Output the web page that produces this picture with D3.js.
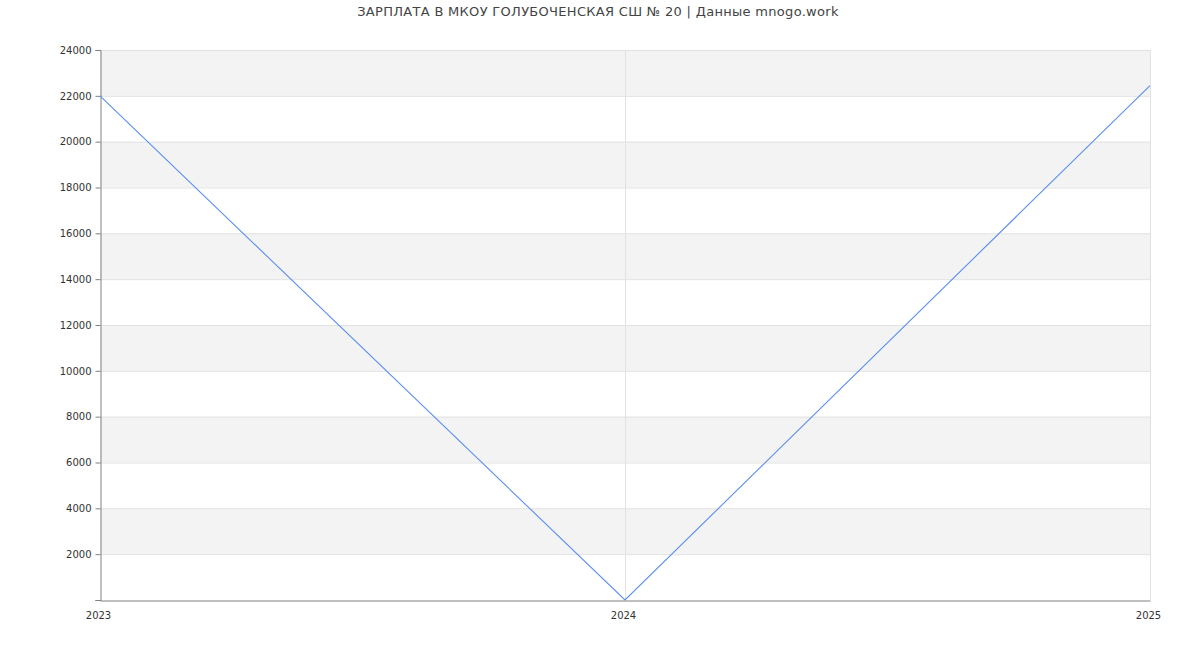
<!DOCTYPE html>
<html lang="ru">
<head>
<meta charset="UTF-8">
<title>Зарплата</title>
<script src="https://d3js.org/d3.v7.min.js"></script>
<style>
    html, body { margin: 0; padding: 0; overflow: hidden; background: #fff; }
    svg { font-family: "DejaVu Sans", sans-serif; }
</style>
</head>
<body>
<svg id="chart" width="1200" height="650"></svg>
<script>
// chart data
const years = [2023, 2024, 2025];
const salaries = [22000, 0, 22450];
const yTicks = [2000, 4000, 6000, 8000, 10000, 12000, 14000, 16000, 18000, 20000, 22000, 24000];
const title = "ЗАРПЛАТА В МКОУ ГОЛУБОЧЕНСКАЯ СШ № 20 | Данные mnogo.work";

const svg = d3.select("#chart"),
    margin = {top: 50, right: 50, bottom: 50, left: 100},
    width = +svg.attr("width") - margin.left - margin.right,
    height = +svg.attr("height") - margin.top - margin.bottom,
    g = svg.append("g").attr("transform", `translate(${margin.left},${margin.top})`);

const x = d3.scaleLinear().domain([2023, 2025]).range([0, width]);
const y = d3.scaleLinear().domain([0, 24000]).range([height, 0]);

// alternating bands
const bands = [0, 4000, 8000, 12000, 16000, 20000].map(v => [v + 2000, v + 4000]);
g.selectAll(".band").data(bands).enter().append("rect")
    .attr("x", 0)
    .attr("width", width)
    .attr("y", d => y(d[1]))
    .attr("height", d => y(d[0]) - y(d[1]))
    .attr("fill", "#f3f3f3");

// horizontal grid
g.selectAll(".hgrid").data(yTicks).enter().append("line")
    .attr("x1", 0).attr("x2", width)
    .attr("y1", d => y(d) + 0.5).attr("y2", d => y(d) + 0.5)
    .attr("stroke", "#e2e2e2");

// vertical grid
g.selectAll(".vgrid").data(years.slice(1)).enter().append("line")
    .attr("x1", d => x(d) + 0.5).attr("x2", d => x(d) + 0.5)
    .attr("y1", 0).attr("y2", height)
    .attr("stroke", "#e2e2e2");

// axes
const yAxis = g.append("g")
    .attr("transform", "translate(0.5,0)")
    .call(d3.axisLeft(y).tickValues([0].concat(yTicks)).tickSize(5).tickPadding(4)
        .tickFormat(d => d === 0 ? "" : d));
const xAxis = g.append("g")
    .attr("transform", `translate(0,${height + 0.5})`)
    .call(d3.axisBottom(x).tickValues(years).tickSize(0).tickPadding(11).tickFormat(d3.format("d")));

[yAxis, xAxis].forEach(a => {
    a.select(".domain").attr("stroke", "#808080");
    a.selectAll(".tick line").attr("stroke", "#808080");
    a.selectAll("text").attr("fill", "#333").style("font-size", "10px")
        .style("font-family", "DejaVu Sans, sans-serif");
});
xAxis.selectAll("text").attr("dx", "-2");

// salary line
const line = d3.line().x((d, i) => x(years[i])).y(d => y(d));
g.append("path")
    .datum(salaries)
    .attr("fill", "none")
    .attr("stroke", "#5b8ef0")
    .attr("stroke-width", 1.1)
    .attr("d", line);

// title
svg.append("text")
    .attr("x", 598)
    .attr("y", 16)
    .attr("text-anchor", "middle")
    .attr("fill", "#444")
    .style("font-size", "13px")
    .style("letter-spacing", "0.3px")
    .text(title);
</script>
</body>
</html>
